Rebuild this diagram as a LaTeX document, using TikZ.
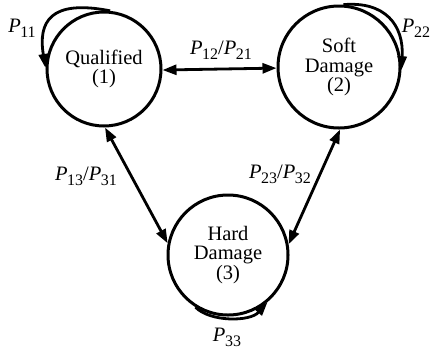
\documentclass[tikz,border=0pt]{standalone}
\usepackage{fontspec}
\setmainfont{Liberation Serif}
\usepackage{tikz}
\usetikzlibrary{arrows.meta}

\newcommand{\pr}[1]{\textit{P}\kern-0.5pt\raisebox{-5pt}{\fontsize{16}{16}\selectfont #1}}

\begin{document}
\begin{tikzpicture}[x=1pt, y=-1pt, font=\fontsize{20.5}{19.5}\selectfont,
    state/.style={draw, circle, line width=3pt, align=center, inner sep=0pt},
    trans/.style={line width=2.8pt, -{Triangle[length=14pt,width=9pt]}},
    both/.style={line width=2.8pt, {Triangle[length=14pt,width=10pt]}-{Triangle[length=14pt,width=10pt]}}]
    \useasboundingbox (0,0) rectangle (430,349);
    \node[state, minimum size=114pt] (qual) at (104,69) {Qualified\\(1)};
    \node[state, minimum size=122pt] (soft) at (339,67) {Soft\\Damage\\(2)};
    \node[state, minimum size=120pt] (hard) at (228,255) {Hard\\Damage\\(3)};
    % transitions between states
    \draw[both] (qual.-1) -- (soft.181);
    \draw[both] (qual.-89) -- (hard.169);
    \draw[both] (soft.-89) -- (hard.10);
    % self loops
    \draw[trans] (qual.84) .. controls (50,-1) and (38,22) .. (qual.179);
    \draw[trans] (soft.86) .. controls (385,1) and (404,25) .. (soft.-3);
    \draw[trans] (hard.238) .. controls (210,322) and (250,322) .. (hard.-50);
    % labels
    \node (l11) at (22,28) {\pr{11}};
    \node (l22) at (416,28) {\pr{22}};
    \node (l33) at (227,337) {\pr{33}};
    \node (l12) at (221,50) {\pr{12}/\pr{21}};
    \node (l13) at (86,176) {\pr{13}/\pr{31}};
    \node (l23) at (280,174) {\pr{23}/\pr{32}};
\end{tikzpicture}
\end{document}
